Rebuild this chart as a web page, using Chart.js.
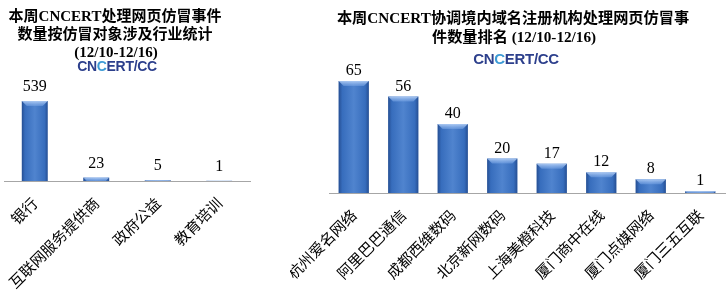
<!DOCTYPE html>
<html><head><meta charset="utf-8">
<script src="https://cdn.jsdelivr.net/npm/chart.js@4.4.0/dist/chart.umd.min.js"></script>
<style>
html,body{margin:0;padding:0;background:#fff;width:728px;height:291px;overflow:hidden;}
.wrap{position:absolute;top:0;}
canvas{position:absolute;top:0;left:0;}
.t{position:absolute;white-space:nowrap;text-align:center;font-weight:bold;color:#000;
 font-family:"Liberation Serif","Noto Sans CJK SC",serif;transform:translate(-50%,-50%);line-height:1;}
.logo{position:absolute;white-space:nowrap;font-family:"Liberation Sans",Arial,sans-serif;font-weight:bold;
 color:#2c3f8c;transform:translate(-50%,-50%);line-height:1;letter-spacing:-0.3px;}
.logo span{color:#3d9bd6;}
</style></head>
<body>
<div class="wrap" style="left:0;width:260px;height:291px;"><canvas id="c1" width="260" height="291"></canvas></div>
<div class="wrap" style="left:290px;width:438px;height:291px;"><canvas id="c2" width="438" height="291"></canvas></div>

<div class="t" style="left:115px;top:16px;font-size:15px;">本周CNCERT处理网页仿冒事件</div>
<div class="t" style="left:115px;top:34px;font-size:15px;">数量按仿冒对象涉及行业统计</div>
<div class="t" style="left:116px;top:52px;font-size:15px;">(12/10-12/16)</div>
<div class="logo" style="left:117px;top:66px;font-size:14px;">CN<span>C</span>ERT/CC</div>

<div class="t" style="left:513px;top:18px;font-size:15.2px;">本周CNCERT协调境内域名注册机构处理网页仿冒事</div>
<div class="t" style="left:514px;top:37px;font-size:15.2px;">件数量排名 (12/10-12/16)</div>
<div class="logo" style="left:516px;top:58px;font-size:15px;">CN<span>C</span>ERT/CC</div>

<script>
const leftCategories = ['银行','互联网服务提供商','政府公益','教育培训'];
const leftValues = [539, 23, 5, 1];
const rightCategories = ['杭州爱名网络','阿里巴巴通信','成都西维数码','北京新网数码','上海美橙科技','厦门商中在线','厦门点媒网络','厦门三五互联'];
const rightValues = [65, 56, 40, 20, 17, 12, 8, 1];

const bevelPlugin = {
  id: 'bevel',
  afterDatasetsDraw(chart, args, opts) {
    const ctx = chart.ctx;
    const meta = chart.getDatasetMeta(0);
    ctx.save();
    meta.data.forEach((el, i) => {
      const w = el.width, x0 = el.x - w/2, top = el.y, base = el.base;
      const h = base - top;
      if (h <= 0) return;
      const g = ctx.createLinearGradient(x0, 0, x0 + w, 0);
      g.addColorStop(0, 'rgba(10,30,80,0.45)');
      g.addColorStop(0.12, 'rgba(10,30,80,0.10)');
      g.addColorStop(0.5, 'rgba(255,255,255,0.10)');
      g.addColorStop(0.88, 'rgba(10,30,80,0.10)');
      g.addColorStop(1, 'rgba(10,30,80,0.45)');
      ctx.fillStyle = g;
      ctx.fillRect(x0, top, w, h);
      const bh = Math.min(5, h);
      ctx.beginPath();
      ctx.moveTo(x0, top);
      ctx.lineTo(x0 + w, top);
      ctx.lineTo(x0 + w - bh, top + bh);
      ctx.lineTo(x0 + bh, top + bh);
      ctx.closePath();
      const g2 = ctx.createLinearGradient(0, top, 0, top + bh);
      g2.addColorStop(0, 'rgba(190,215,250,0.85)');
      g2.addColorStop(1, 'rgba(120,165,230,0.5)');
      ctx.fillStyle = g2;
      ctx.fill();
    });
    ctx.restore();
  }
};

const valuePlugin = {
  id: 'values',
  afterDatasetsDraw(chart, args, opts) {
    const ctx = chart.ctx;
    const meta = chart.getDatasetMeta(0);
    const vals = chart.data.datasets[0].data;
    ctx.save();
    ctx.font = '16px "Liberation Serif", serif';
    ctx.fillStyle = '#000';
    ctx.textAlign = 'center';
    ctx.textBaseline = 'alphabetic';
    meta.data.forEach((el, i) => {
      ctx.fillText(String(vals[i]), el.x, el.y - opts.gap);
    });
    ctx.restore();
  }
};

function makeChart(id, labels, values, cfg) {
  return new Chart(document.getElementById(id), {
    type: 'bar',
    data: { labels, datasets: [{ data: values, backgroundColor: '#3c76c9', borderColor: '#2d5ea8', borderWidth: 0,
      barPercentage: cfg.barPct, categoryPercentage: 1 }] },
    plugins: [bevelPlugin, valuePlugin],
    options: {
      responsive: false, animation: false, devicePixelRatio: 1,
      layout: { padding: { left: cfg.padL, right: cfg.padR, top: cfg.padT, bottom: 0 } },
      plugins: { legend: { display: false }, tooltip: { enabled: false }, title: { display: false },
        values: { gap: cfg.gap } },
      scales: {
        x: {
          grid: { display: false },
          border: { display: true, color: '#a6a6a6', width: 1 },
          ticks: { color: '#000', minRotation: 45, maxRotation: 45, autoSkip: false, padding: 5,
            font: { family: '"Noto Sans CJK SC", sans-serif', size: 15 } },
          afterFit(scale) { scale.height = cfg.xH; scale.paddingLeft = 0; scale.paddingRight = 0; }
        },
        y: { display: false, min: 0, max: cfg.max }
      }
    }
  });
}

makeChart('c1', leftCategories, leftValues, { barPct: 0.42, padL: 4, padR: 10, padT: 70, xH: 110, max: 748, gap: 10 });
makeChart('c2', rightCategories, rightValues, { barPct: 0.61, padL: 39, padR: 3, padT: 60, xH: 98, max: 77.2, gap: 6 });
</script>
</body></html>
